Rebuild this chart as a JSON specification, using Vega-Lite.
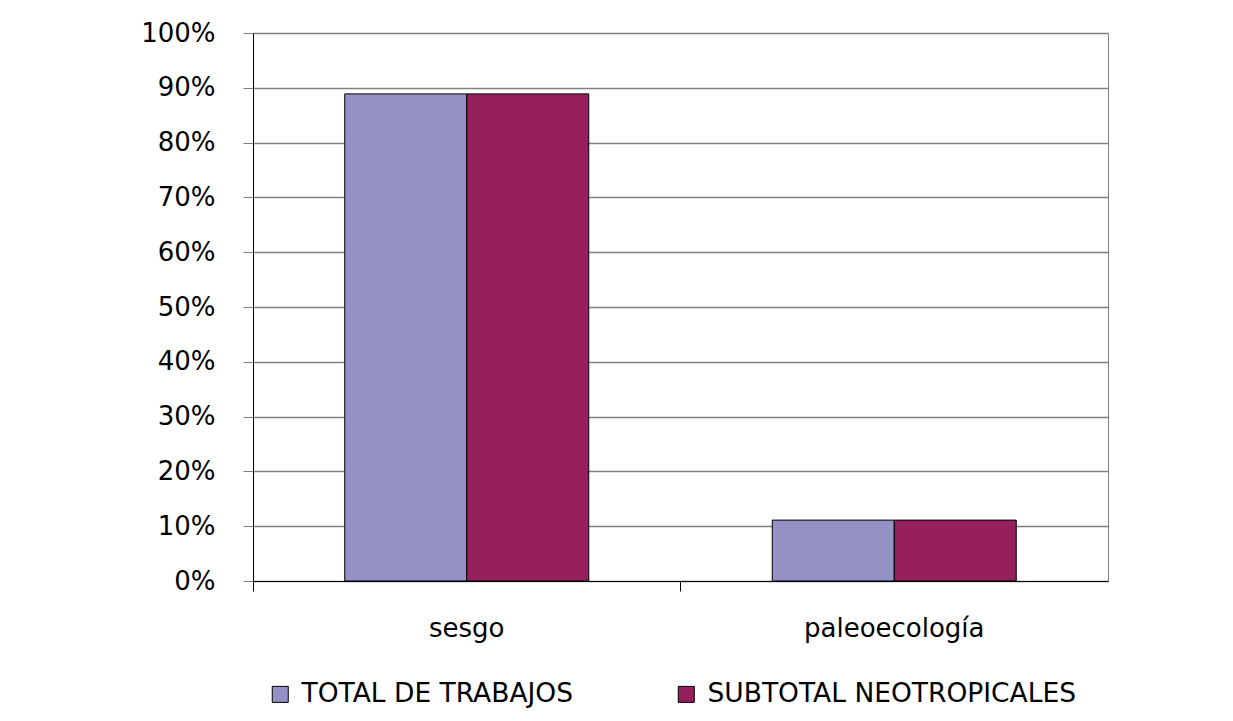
{
  "$schema": "https://vega.github.io/schema/vega-lite/v6.json",
  "autosize": "none",
  "width": 855,
  "height": 548,
  "padding": {"left": 253, "top": 33, "right": 125, "bottom": 140},
  "background": "white",
  "config": {
    "view": {"stroke": "#808080", "strokeWidth": 1},
    "font": "DejaVu Sans"
  },
  "data": {
    "values": [
      {"tema": "sesgo", "serie": "TOTAL DE TRABAJOS", "valor": 0.8889},
      {"tema": "sesgo", "serie": "SUBTOTAL NEOTROPICALES", "valor": 0.8889},
      {"tema": "paleoecología", "serie": "TOTAL DE TRABAJOS", "valor": 0.1111},
      {"tema": "paleoecología", "serie": "SUBTOTAL NEOTROPICALES", "valor": 0.1111}
    ]
  },
  "mark": {"type": "bar", "stroke": "black", "strokeWidth": 1},
  "encoding": {
    "x": {
      "field": "tema", "type": "nominal", "sort": ["sesgo", "paleoecología"],
      "scale": {"paddingInner": 0, "paddingOuter": 0},
      "axis": {
        "title": null, "labelAngle": 0, "bandPosition": 0,
        "domainColor": "black", "tickColor": "black", "tickSize": 10,
        "labelFontSize": 26, "labelColor": "black", "labelPadding": 24,
        "labelFont": "DejaVu Sans", "labelLimit": 400, "grid": false
      }
    },
    "xOffset": {
      "field": "serie", "type": "nominal", "sort": ["TOTAL DE TRABAJOS", "SUBTOTAL NEOTROPICALES"],
      "scale": {"paddingInner": 0, "paddingOuter": 0.752}
    },
    "y": {
      "field": "valor", "type": "quantitative",
      "scale": {"domain": [0, 1]},
      "axis": {
        "title": null, "format": ".0%", "values": [0, 0.1, 0.2, 0.3, 0.4, 0.5, 0.6, 0.7, 0.8, 0.9, 1],
        "labelOverlap": false,
        "domainColor": "black", "tickColor": "#808080", "tickSize": 10,
        "gridColor": "#808080", "gridWidth": 1.3,
        "labelFontSize": 26, "labelColor": "black", "labelPadding": 28,
        "labelFont": "DejaVu Sans"
      }
    },
    "color": {
      "field": "serie", "type": "nominal", "sort": ["TOTAL DE TRABAJOS", "SUBTOTAL NEOTROPICALES"],
      "scale": {"range": ["#9391C5", "#961F5E"]},
      "legend": {
        "title": null, "orient": "none", "legendX": 14, "legendY": 648,
        "direction": "horizontal", "columns": 2, "columnPadding": 99,
        "symbolType": "square", "symbolSize": 256, "symbolStrokeColor": "black", "symbolStrokeWidth": 1,
        "labelFontSize": 26.5, "labelColor": "black", "labelOffset": 8,
        "labelFont": "DejaVu Sans", "labelLimit": 500
      }
    }
  }
}
